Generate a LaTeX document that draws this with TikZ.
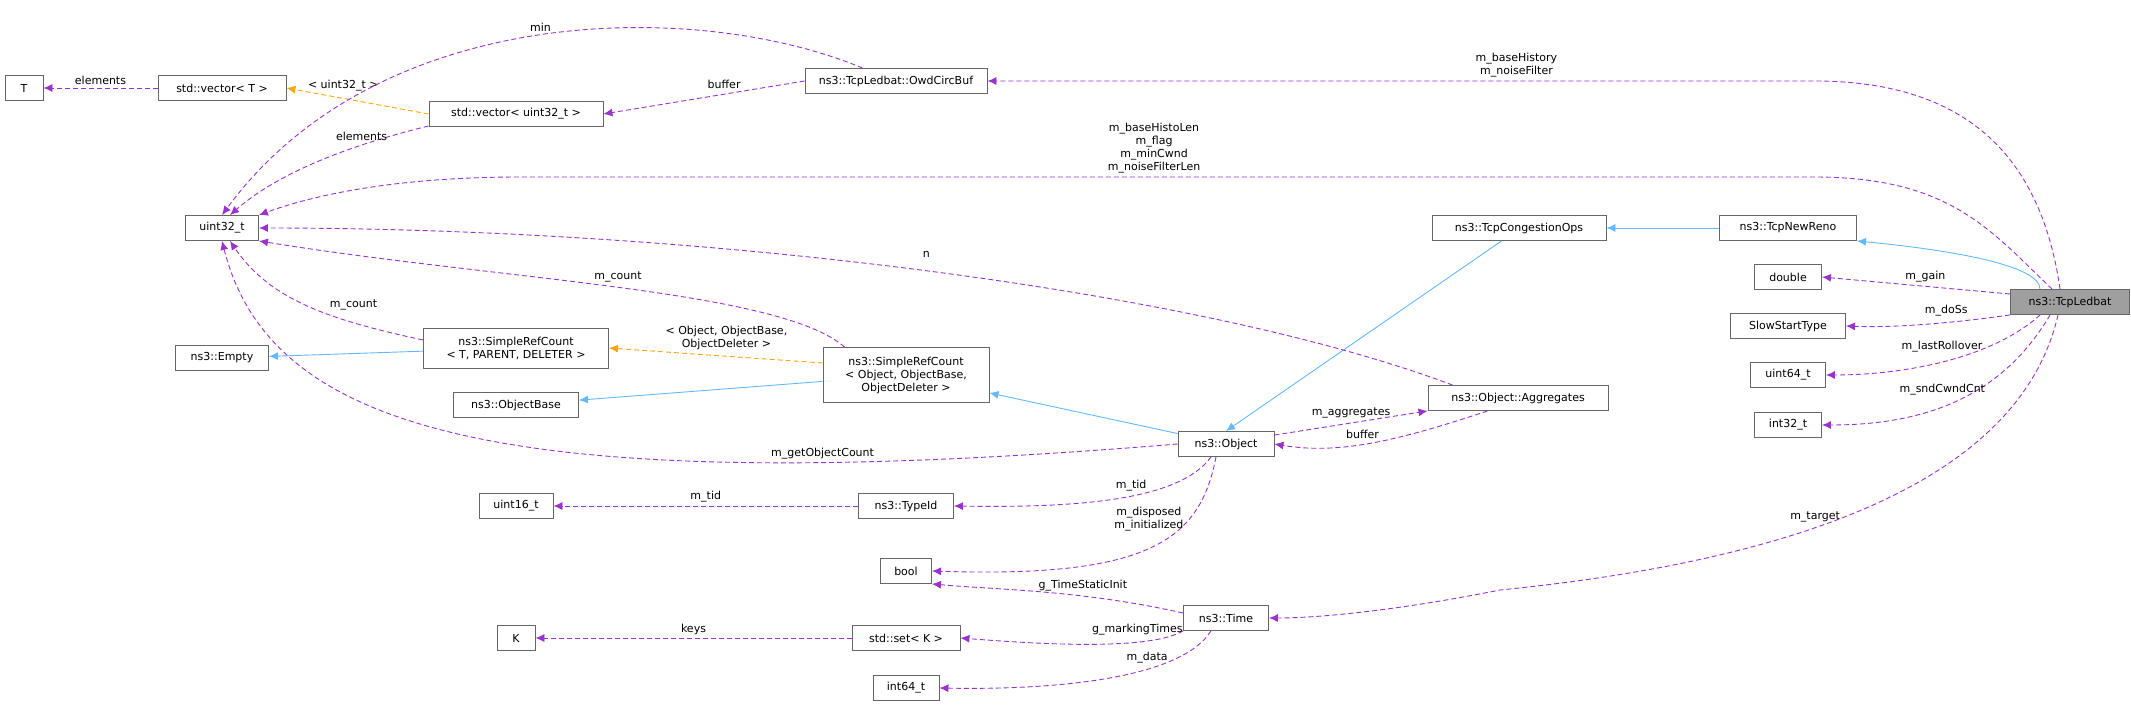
\documentclass[tikz,border=0pt]{standalone}
\usepackage{fontspec}
\setmainfont{DejaVu Sans}
\usetikzlibrary{arrows.meta,shapes}
\definecolor{memcol}{HTML}{9A32CD}
\definecolor{inhcol}{HTML}{63B8FF}
\definecolor{tplcol}{HTML}{FFA500}
\definecolor{boxcol}{HTML}{666666}

\begin{document}
\begin{tikzpicture}[x=1pt,y=-1pt,font=\fontsize{11}{13}\selectfont,
  box/.style={rectangle, draw=boxcol, fill=white, line width=0.9pt, minimum height=25pt, inner sep=2pt, align=center},
  mem/.style={dashed, dash pattern=on 5pt off 3pt, memcol, line width=0.9pt, -{Latex[length=9pt,width=8pt]}},
  inh/.style={inhcol, line width=0.9pt, -{Latex[length=9pt,width=8pt]}},
  tpl/.style={dashed, dash pattern=on 5pt off 3pt, tplcol, line width=0.9pt, -{Latex[length=9pt,width=8pt]}},
  lbl/.style={black, align=center, inner sep=1pt}]
\useasboundingbox (0,0) rectangle (2131,706);

    \node[box, minimum width=38pt] (T) at (24,88) {T};
    \node[box, minimum width=128pt] (vecT) at (222,88) {std::vector< T >};
    \node[box, minimum width=174pt] (vecU) at (516,114) {std::vector< uint32\_t >};
    \node[box, minimum width=182pt] (owd) at (896,81) {ns3::TcpLedbat::OwdCircBuf};
    \node[box, minimum width=73pt] (u32) at (222,228) {uint32\_t};
    \node[box, minimum width=93pt] (empty) at (222,358) {ns3::Empty};
    \node[box, minimum width=185pt, minimum height=40pt, inner sep=1pt] (srcT) at (516,348) {ns3::SimpleRefCount\\< T, PARENT, DELETER >};
    \node[box, minimum width=166pt, minimum height=55pt, inner sep=1pt] (srcO) at (906,375) {ns3::SimpleRefCount\\< Object, ObjectBase,\\ObjectDeleter >};
    \node[box, minimum width=125pt] (objbase) at (516,405) {ns3::ObjectBase};
    \node[box, minimum width=174pt] (congops) at (1519,228) {ns3::TcpCongestionOps};
    \node[box, minimum width=137pt] (newreno) at (1788,228) {ns3::TcpNewReno};
    \node[box, minimum width=67pt] (double) at (1788,277) {double};
    \node[box, minimum width=115pt] (slow) at (1788,326) {SlowStartType};
    \node[box, minimum width=75pt] (u64) at (1788,375) {uint64\_t};
    \node[box, minimum width=67pt] (i32) at (1788,425) {int32\_t};
    \node[box, minimum width=119pt, fill=gray!75] (ledbat) at (2070,302) {ns3::TcpLedbat};
    \node[box, minimum width=180pt] (aggr) at (1518,398) {ns3::Object::Aggregates};
    \node[box, minimum width=96pt] (object) at (1226,444) {ns3::Object};
    \node[box, minimum width=74pt] (u16) at (516,506) {uint16\_t};
    \node[box, minimum width=95pt] (typeid) at (906,506) {ns3::TypeId};
    \node[box, minimum width=51pt] (bool) at (906,571) {bool};
    \node[box, minimum width=85pt] (time) at (1226,618) {ns3::Time};
    \node[box, minimum width=38pt] (K) at (516,638) {K};
    \node[box, minimum width=108pt] (set) at (906,638) {std::set< K >};
    \node[box, minimum width=66pt] (i64) at (906,688) {int64\_t};

    % inheritance
    \draw[inh] (srcT) -- (empty);
    \draw[inh] (srcO) -- (objbase);
    \draw[inh] (object) -- (srcO);
    \draw[inh] (congops.south west) ++(70,0) -- (object.north);
    \draw[inh] (newreno) -- (congops);
    \draw[inh] (ledbat.north west) ++(30,0) .. controls (2040,265) and (1950,250) .. (newreno.south east);

    % template instances
    \draw[tpl] (vecU.west) -- node[lbl, above=6pt, pos=0.6] {< uint32\_t >} (vecT.east);
    \draw[tpl] (srcO.west) ++(0,-12) -- node[lbl, above=5pt, pos=0.45] {< Object, ObjectBase,\\ObjectDeleter >} (srcT.east);

    % members
    \draw[mem] (vecT) -- node[lbl, above=2pt] {elements} (T);
    \draw[mem] (owd.west) -- node[lbl, above=4pt, pos=0.4] {buffer} (vecU.east);
    \draw[mem] (owd.north west) ++(58,0) .. controls (700,0) and (380,0) .. node[lbl, above=2pt, pos=0.5] {min} (u32.north);
    \draw[mem] (vecU.west) ++(0,12) .. controls (330,150) and (270,180) .. node[lbl, above=3pt, pos=0.25] {elements} ([xshift=8pt]u32.north);
    \draw[mem] (ledbat.north) ++(-10,0) .. controls (2040,150) and (1960,81) .. (1814,81) -- node[lbl, above=2pt, pos=0.36] {m\_baseHistory\\m\_noiseFilter} (owd.east);
    \draw[mem] (ledbat.north) ++(-18,0) .. controls (1990,230) and (1950,177) .. (1814,177) -- node[lbl, above=2pt, pos=0.51] {m\_baseHistoLen\\m\_flag\\m\_minCwnd\\m\_noiseFilterLen} (520,177) .. controls (380,177) and (300,200) .. (u32.north east);
    \draw[mem] (aggr.north west) ++(25,0) .. controls (1200,290) and (700,228) .. node[lbl, above=12pt, pos=0.5] {n} (u32.east);
    \draw[mem] (srcO.north west) ++(22,0) .. controls (780,290) and (500,280) .. node[lbl, above=4pt, pos=0.5] {m\_count} (u32.south east);
    \draw[mem] (srcT.west) ++(0,-8) .. controls (330,320) and (270,300) .. node[lbl, above right=2pt, pos=0.4] {m\_count} ([xshift=8pt]u32.south);
    \draw[mem] (object.west) .. controls (500,500) and (270,430) .. node[lbl, above=2pt, pos=0.2] {m\_getObjectCount} (u32.south);
    \draw[mem] (object.north east) ++(0,4) -- node[lbl, above=3pt, pos=0.5] {m\_aggregates} (aggr.south west);
    \draw[mem] (aggr.south west) ++(60,0) .. controls (1400,440) and (1340,455) .. node[lbl, above=4pt, pos=0.55] {buffer} (object.east);
    \draw[mem] (object.south) ++(-15,0) .. controls (1180,500) and (1080,508) .. node[lbl, above=4pt, pos=0.45] {m\_tid} (typeid.east);
    \draw[mem] (typeid) -- node[lbl, above=2pt] {m\_tid} (u16);
    \draw[mem] (object.south) ++(-10,0) .. controls (1200,540) and (1150,578) .. node[lbl, left=4pt, pos=0.3] {m\_disposed\\m\_initialized} (bool.east);
    \draw[mem] (time.west) ++(0,-5) .. controls (1080,590) and (1000,590) .. node[lbl, above=4pt, pos=0.35] {g\_TimeStaticInit} (bool.south east);
    \draw[mem] (time.south west) .. controls (1150,650) and (1050,645) .. node[lbl, above=6pt, pos=0.3] {g\_markingTimes} (set.east);
    \draw[mem] (set) -- node[lbl, above=2pt] {keys} (K);
    \draw[mem] (time.south) ++(-15,0) .. controls (1180,680) and (1050,690) .. node[lbl, above=5pt, pos=0.35] {m\_data} (i64.east);
    \draw[mem] (ledbat.west) ++(0,-8) -- node[lbl, above=3pt, pos=0.45] {m\_gain} (double.east);
    \draw[mem] (ledbat.south west) .. controls (1960,322) and (1900,328) .. node[lbl, above=5pt, pos=0.4] {m\_doSs} (slow.east);
    \draw[mem] (ledbat.south west) ++(30,0) .. controls (1990,360) and (1900,375) .. node[lbl, above=8pt, pos=0.5] {m\_lastRollover} (u64.east);
    \draw[mem] (ledbat.south west) ++(40,0) .. controls (2000,400) and (1920,425) .. node[lbl, above=10pt, pos=0.55] {m\_sndCwndCnt} (i32.east);
    \draw[mem] (ledbat.south) ++(-12,0) .. controls (2020,480) and (1800,560) .. node[lbl, above=4pt, pos=0.6] {m\_target} (1500,590) .. controls (1400,610) and (1320,618) .. (time.east);
\end{tikzpicture}
\end{document}
